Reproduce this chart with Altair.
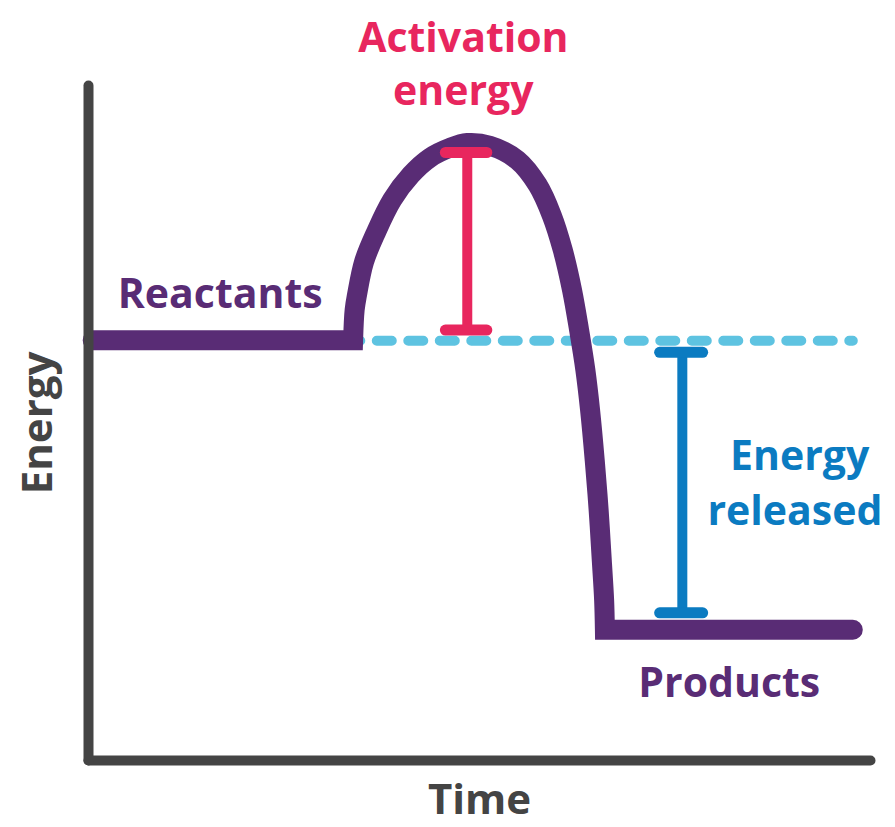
import altair as alt
import pandas as pd

# ---- data (time 0-100, energy 0-100) ----
curve_t = [0.6, 33.9, 33.9, 34.1, 34.4, 35.3, 36.8, 38.9, 41.3, 43.7, 46.3, 48.5, 51.4, 54.9,
           57.5, 59.3, 60.7, 61.9, 62.8, 63.6, 64.2, 64.8, 65.3, 65.7, 66.0, 66.1, 66.1, 97.8]
curve_e = [62.2, 62.2, 62.2, 66.7, 68.9, 73.8, 78.1, 83.0, 86.7, 89.2, 90.7, 91.4, 91.0, 88.9,
           85.2, 80.7, 75.6, 69.6, 63.7, 57.8, 51.9, 44.4, 37.0, 29.6, 23.7, 19.3, 19.3, 19.3]

reactant_level = 62.1
dash_start, dash_end = 32.9, 97.8

act_t, act_low, act_high, act_cap_l, act_cap_r = 48.5, 63.7, 90.0, 45.7, 51.0
rel_t, rel_high, rel_low, rel_cap_l, rel_cap_r = 76.0, 60.4, 21.8, 73.1, 78.6

label_text = ["Activation", "energy", "Reactants", "Energy", "released", "Products"]
label_t = [48.0, 48.0, 16.9, 91.0, 90.4, 82.0]
label_e = [104.9, 97.0, 67.0, 43.0, 34.8, 9.3]
label_color = ["#E8265E", "#E8265E", "#592C75", "#0B7BC1", "#0B7BC1", "#592C75"]

PURPLE = "#592C75"
PINK = "#E8265E"
BLUE = "#0B7BC1"
LIGHTBLUE = "#5EC3E1"
GREY = "#444444"
FONT = "Open Sans"
FS = 41

curve_df = pd.DataFrame({"t": curve_t, "e": curve_e, "o": list(range(len(curve_t)))})
dash_df = pd.DataFrame({"t": [dash_start], "t2": [dash_end], "e": [reactant_level]})
act_v = pd.DataFrame({"t": [act_t], "e": [act_low], "e2": [act_high]})
act_caps = pd.DataFrame({"t": [act_cap_l, act_cap_l], "t2": [act_cap_r, act_cap_r], "e": [act_low, act_high]})
rel_v = pd.DataFrame({"t": [rel_t], "e": [rel_low], "e2": [rel_high]})
rel_caps = pd.DataFrame({"t": [rel_cap_l, rel_cap_l], "t2": [rel_cap_r, rel_cap_r], "e": [rel_low, rel_high]})
labels_df = pd.DataFrame({"t": label_t, "e": label_e, "txt": label_text, "c": label_color})

xscale = alt.Scale(domain=[0, 100], nice=False, zero=False)
yscale = alt.Scale(domain=[0, 100], nice=False, zero=False)

xaxis = alt.Axis(title="Time", domain=True, domainWidth=10, domainColor=GREY, domainCap="round",
                 ticks=False, labels=False, grid=False, titleFont=FONT, titleFontSize=42,
                 titleFontWeight="bold", titleColor=GREY, titlePadding=20, zindex=1)
yaxis = alt.Axis(title="Energy", domain=True, domainWidth=10, domainColor=GREY, domainCap="round",
                 ticks=False, labels=False, grid=False, titleFont=FONT, titleFontSize=42,
                 titleFontWeight="bold", titleColor=GREY, titlePadding=28, zindex=1)

X = lambda f="t": alt.X(f, type="quantitative", scale=xscale, axis=xaxis)
Y = lambda f="e": alt.Y(f, type="quantitative", scale=yscale, axis=yaxis)

dash = alt.Chart(dash_df).mark_rule(color=LIGHTBLUE, strokeWidth=10, strokeCap="round",
                                    strokeDash=[15, 16.5]).encode(x=X(), x2="t2", y=Y())

curve = alt.Chart(curve_df).mark_line(color=PURPLE, strokeWidth=20, strokeJoin="miter",
                                      strokeCap="round", interpolate="catmull-rom").encode(
    x=X(), y=Y(), order="o")

act_line = alt.Chart(act_v).mark_rule(color=PINK, strokeWidth=10).encode(x=X(), y=Y(), y2="e2")
act_cap = alt.Chart(act_caps).mark_rule(color=PINK, strokeWidth=11, strokeCap="round").encode(
    x=X(), x2="t2", y=Y())
rel_line = alt.Chart(rel_v).mark_rule(color=BLUE, strokeWidth=10).encode(x=X(), y=Y(), y2="e2")
rel_cap = alt.Chart(rel_caps).mark_rule(color=BLUE, strokeWidth=11, strokeCap="round").encode(
    x=X(), x2="t2", y=Y())

labels = alt.Chart(labels_df).mark_text(font=FONT, fontSize=FS, fontWeight="bold",
                                        align="center", baseline="alphabetic").encode(
    x=X(), y=Y(), text="txt", color=alt.Color("c", scale=None))

chart = alt.layer(dash, curve, act_line, act_cap, rel_line, rel_cap, labels).properties(
    width=782, height=675,
    autosize=alt.AutoSizeParams(type="none"),
    padding={"left": 80, "top": 77, "right": 17, "bottom": 66},
).configure_view(stroke=None)

chart.save("out.html", embed_options={"renderer": "svg", "actions": False})
